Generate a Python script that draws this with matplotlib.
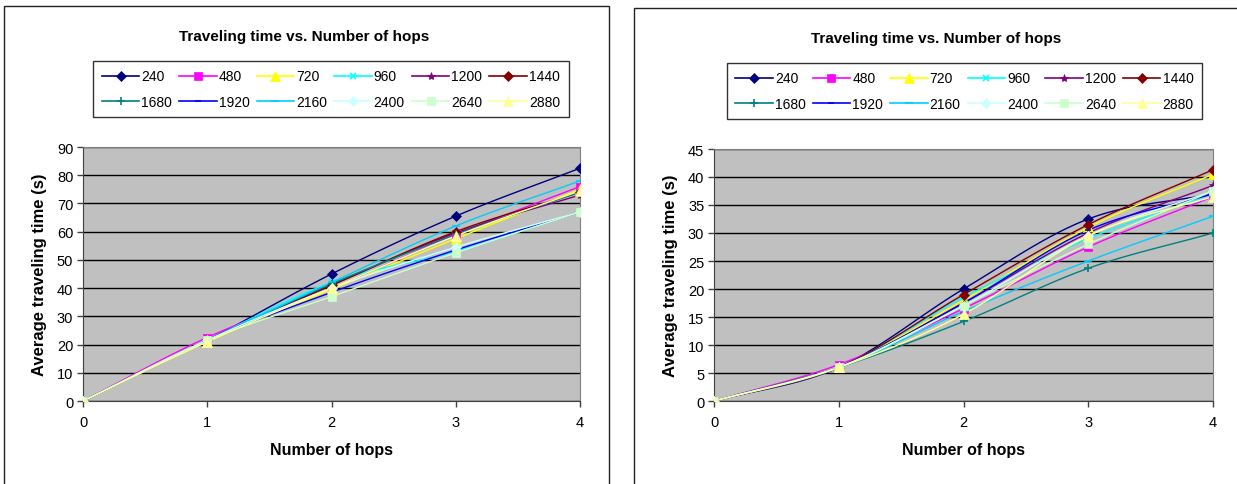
import numpy as np
import matplotlib
matplotlib.use("Agg")
import matplotlib.pyplot as plt
from matplotlib.patches import Rectangle
from matplotlib.lines import Line2D

plt.rcParams['font.family'] = ['Liberation Sans', 'DejaVu Sans']

hops = [0, 1, 2, 3, 4]
series_names = ['240', '480', '720', '960', '1200', '1440',
                '1680', '1920', '2160', '2400', '2640', '2880']

# Average traveling time (s), first scenario
left_240 = [0, 21.5, 45.0, 65.5, 82.5]
left_480 = [0, 22.5, 40.0, 59.0, 76.0]
left_720 = [0, 21.0, 39.5, 57.5, 75.0]
left_960 = [0, 21.5, 42.0, 53.0, 67.0]
left_1200 = [0, 21.5, 41.0, 59.5, 73.0]
left_1440 = [0, 21.5, 41.0, 60.0, 74.0]
left_1680 = [0, 21.5, 41.5, 59.0, 74.0]
left_1920 = [0, 21.5, 38.5, 53.5, 67.0]
left_2160 = [0, 21.5, 42.0, 62.0, 78.0]
left_2400 = [0, 21.5, 40.0, 54.5, 67.0]
left_2640 = [0, 21.5, 37.0, 52.5, 67.0]
left_2880 = [0, 21.0, 40.0, 58.5, 74.5]

# Average traveling time (s), second scenario
right_240 = [0, 6.0, 20.0, 32.5, 37.0]
right_480 = [0, 6.5, 16.5, 27.5, 36.5]
right_720 = [0, 6.0, 18.0, 31.0, 40.5]
right_960 = [0, 6.0, 18.5, 29.0, 37.0]
right_1200 = [0, 6.0, 17.5, 30.0, 38.5]
right_1440 = [0, 6.0, 19.0, 31.5, 41.3]
right_1680 = [0, 6.0, 14.2, 23.7, 30.0]
right_1920 = [0, 6.0, 17.5, 30.5, 37.0]
right_2160 = [0, 6.0, 16.0, 25.0, 33.0]
right_2400 = [0, 6.0, 17.0, 29.5, 37.5]
right_2640 = [0, 6.0, 17.0, 28.0, 37.5]
right_2880 = [0, 6.0, 15.5, 29.5, 36.5]

left_series = [left_240, left_480, left_720, left_960, left_1200, left_1440,
               left_1680, left_1920, left_2160, left_2400, left_2640, left_2880]
right_series = [right_240, right_480, right_720, right_960, right_1200, right_1440,
                right_1680, right_1920, right_2160, right_2400, right_2640, right_2880]

colors = ['#000080', '#FF00FF', '#FFFF00', '#00FFFF', '#800080', '#800000',
          '#008080', '#0000FF', '#00CCFF', '#CCFFFF', '#CCFFCC', '#FFFF99']
markers = ['D', 's', '^', 'x', '*', 'D', '+', '_', '_', 'D', 's', '^']
msizes = [5, 6, 7, 5, 6, 5, 6, 5, 6, 5, 6, 7]

W, H = 1237, 485


def px_rect(x0, y0, x1, y1):
    return [x0 / W, 1 - y1 / H, (x1 - x0) / W, (y1 - y0) / H]


def smooth(xs, ys, n=24):
    # Catmull-Rom curve through the points, like spreadsheet smoothed lines
    P = np.column_stack([xs, ys]).astype(float)
    P = np.vstack([P[0] - (P[1] - P[0]), P, P[-1] + (P[-1] - P[-2])])
    out = []
    for i in range(1, len(P) - 2):
        p0, p1, p2, p3 = P[i - 1], P[i], P[i + 1], P[i + 2]
        t = np.linspace(0, 1, n)[:, None]
        seg = 0.5 * ((2 * p1) + (-p0 + p2) * t + (2 * p0 - 5 * p1 + 4 * p2 - p3) * t ** 2
                     + (-p0 + 3 * p1 - 3 * p2 + p3) * t ** 3)
        out.append(seg if i == 1 else seg[1:])
    out = np.vstack(out)
    return out[:, 0], out[:, 1]


fig = plt.figure(figsize=(W / 100, H / 100), dpi=100)
fig.patch.set_facecolor('white')

# chart frames
for fx0, fy0, fx1, fy1 in [(4, 7, 609, 490), (634, 9, 1245, 490)]:
    fig.patches.append(Rectangle((fx0 / W, 1 - fy1 / H), (fx1 - fx0) / W, (fy1 - fy0) / H,
                                 transform=fig.transFigure, fill=False,
                                 edgecolor='#222222', linewidth=1.0))

panels = [
    dict(rect=(83, 148, 580, 402), data=left_series, ymax=90, ystep=10,
         title_xy=(304, 37), legend=(92, 62, 570, 118), ylab_x=40, xlab_y=451),
    dict(rect=(714, 150, 1213, 402), data=right_series, ymax=45, ystep=5,
         title_xy=(936, 39), legend=(726, 64, 1203, 120), ylab_x=670, xlab_y=451),
]

# legend entries fill row by row: reorder for column-major legend layout
ncol = 6
order = [r * ncol + c for c in range(ncol) for r in range(2)]

for p in panels:
    ax = fig.add_axes(px_rect(*p['rect']))
    ax.set_facecolor('#C0C0C0')
    for name, ys, c, m, ms in zip(series_names, p['data'], colors, markers, msizes):
        sx, sy = smooth(hops, ys)
        ax.plot(sx, sy, color=c, linewidth=1.0, zorder=3)
        ax.plot(hops, ys, linestyle='none', marker=m, color=c, markersize=ms,
                markeredgewidth=1.2 if m in ('x', '+', '_') else 0.5,
                markeredgecolor=c, zorder=4)
    ax.set_xlim(0, 4)
    ax.set_ylim(0, p['ymax'])
    ax.set_xticks(hops)
    ax.set_yticks(np.arange(0, p['ymax'] + 1, p['ystep']))
    ax.grid(axis='y', color='black', linewidth=1.0, zorder=1)
    ax.set_axisbelow(True)
    for s in ('top', 'right'):
        ax.spines[s].set_color('#808080')
    for s in ('left', 'bottom'):
        ax.spines[s].set_color('#404040')
    ax.tick_params(axis='both', direction='out', length=4, width=1, color='#404040',
                   labelsize=10.5, pad=3)
    ax.tick_params(axis='x', pad=6)

    tx, ty = p['title_xy']
    fig.text(tx / W, 1 - ty / H, 'Traveling time vs. Number of hops', ha='center', va='center',
             fontsize=11, fontweight='bold')
    x0, y0, x1, y1 = p['rect']
    fig.text(((x0 + x1) / 2) / W, 1 - p['xlab_y'] / H, 'Number of hops', ha='center',
             va='center', fontsize=11.5, fontweight='bold')
    fig.text(p['ylab_x'] / W, 1 - ((y0 + y1) / 2) / H, 'Average traveling time (s)',
             ha='center', va='center', rotation=90, fontsize=12, fontweight='bold')

    handles = [Line2D([0], [0], color=c, marker=m, markersize=ms, linewidth=1.2,
                      markeredgewidth=1.2 if m in ('x', '+', '_') else 0.5, markeredgecolor=c)
               for c, m, ms in zip(colors, markers, msizes)]
    lx0, ly0, lx1, ly1 = p['legend']
    leg = fig.legend([handles[i] for i in order], [series_names[i] for i in order],
                     ncol=ncol, loc='center',
                     bbox_to_anchor=((lx0 + lx1) / 2 / W, 1 - (ly0 + ly1) / 2 / H),
                     fontsize=10, frameon=True, fancybox=False, handlelength=2.7,
                     handletextpad=0.15, columnspacing=0.5, labelspacing=0.8,
                     borderpad=0.6, borderaxespad=0)
    leg.get_frame().set_edgecolor('black')
    leg.get_frame().set_linewidth(1.0)

fig.savefig('out.png', dpi=100, facecolor='white')
